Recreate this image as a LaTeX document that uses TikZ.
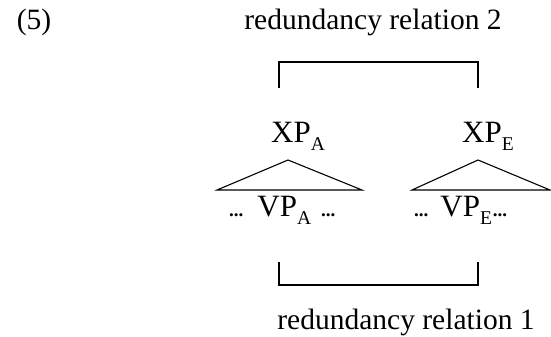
\documentclass[tikz,border=0pt]{standalone}
\usepackage{fontspec}
\setmainfont{Liberation Serif}
\newcommand{\mysubs}[1]{\raisebox{-8pt}{\fontsize{19.5}{19.5}\selectfont #1}}
\newcommand{\mydots}{{\fontsize{19}{19}\selectfont\bfseries ...}}
\begin{document}
\begin{tikzpicture}[x=1pt,y=-1pt,
  lbl/.style={inner sep=0pt, font=\fontsize{29.5}{34}\selectfont},
  tre/.style={inner sep=0pt, anchor=base west, font=\fontsize{31}{34}\selectfont},
  ln/.style={line width=1.1pt, line join=miter}]
\useasboundingbox (0,0) rectangle (551,337);
% labels
\node[lbl] (ex) at (34,22) {(5)};
\node[lbl] (r2) at (373,22) {redundancy relation 2};
\node[tre] (xa) at (271,142) {XP\mysubs{A}};
\node[tre] (xe) at (462,142) {XP\mysubs{E}};
\node[tre] (va) at (229,216) {\mydots\hspace{14pt}VP\mysubs{A}\hspace{10pt}\mydots};
\node[tre] (ve) at (414,216) {\mydots\hspace{12pt}VP\mysubs{E}\hspace{1pt}\mydots};
\node[lbl] (r1) at (406,322) {redundancy relation 1};
% top bracket
\coordinate (t1) at (279,88);
\coordinate (t2) at (279,62);
\coordinate (t3) at (478,62);
\coordinate (t4) at (478,88);
\draw[ln] (t1) -- (t2) -- (t3) -- (t4);
% bottom bracket
\coordinate (b1) at (279,262);
\coordinate (b2) at (279,285);
\coordinate (b3) at (478,285);
\coordinate (b4) at (478,262);
\draw[ln] (b1) -- (b2) -- (b3) -- (b4);
% triangles
\coordinate (aA) at (288,160);
\coordinate (lA) at (217,190);
\coordinate (rA) at (362,190);
\draw[ln] (aA) -- (lA) -- (rA) -- cycle;
\coordinate (aE) at (478,160);
\coordinate (lE) at (412,190);
\coordinate (rE) at (550,190);
\draw[ln] (aE) -- (lE) -- (rE) -- cycle;
\end{tikzpicture}
\end{document}
